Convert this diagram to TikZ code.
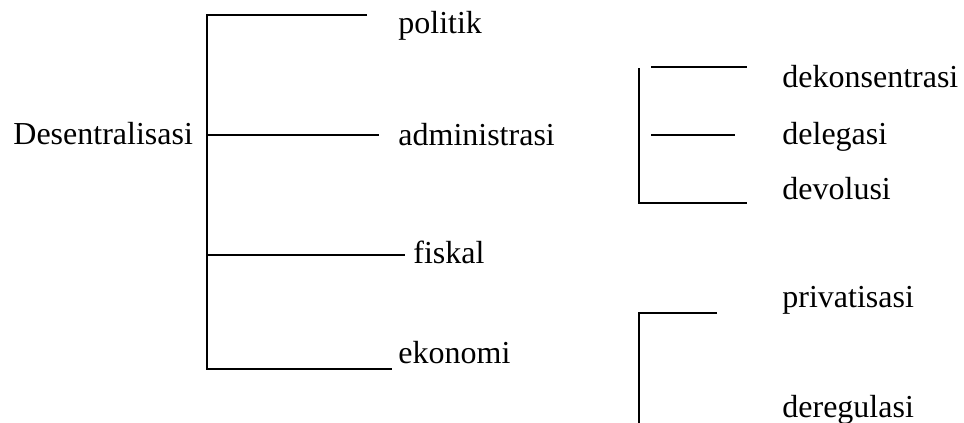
\documentclass[tikz,border=0pt]{standalone}
\usepackage{fontspec}
\setmainfont{Liberation Serif}
\begin{document}
\begin{tikzpicture}[x=0.5pt,y=-0.5pt,
  lbl/.style={anchor=base west,inner sep=0pt,font=\fontsize{16}{19}\selectfont},
  br/.style={line width=1pt}]
\useasboundingbox (0,0) rectangle (964,423);
% labels
\node[lbl] (des) at (13,144) {Desentralisasi};
\node[lbl] (pol) at (398,33) {politik};
\node[lbl] (adm) at (398,145) {administrasi};
\node[lbl] (fis) at (413,263) {fiskal};
\node[lbl] (eko) at (398,363) {ekonomi};
\node[lbl] (dek) at (782,87) {dekonsentrasi};
\node[lbl] (del) at (782,144) {delegasi};
\node[lbl] (dev) at (782,199) {devolusi};
\node[lbl] (pri) at (782,307) {privatisasi};
\node[lbl] (der) at (782,417) {deregulasi};
% main bracket
\coordinate (m1) at (207,15);
\coordinate (m2) at (207,135);
\coordinate (m3) at (207,255);
\coordinate (m4) at (207,369);
\coordinate (e1) at (367,15);
\coordinate (e2) at (379,135);
\coordinate (e3) at (405,255);
\coordinate (e4) at (392,369);
\draw[br] (e1) -- (m1) -- (m4) -- (e4);
\draw[br] (m2) -- (e2);
\draw[br] (m3) -- (e3);
% administrasi sub-bracket
\coordinate (a1) at (639,68);
\coordinate (a2) at (639,203);
\coordinate (a3) at (747,203);
\coordinate (t1) at (651,67);
\coordinate (t2) at (747,67);
\coordinate (d1) at (651,135);
\coordinate (d2) at (735,135);
\draw[br] (a1) -- (a2) -- (a3);
\draw[br] (t1) -- (t2);
\draw[br] (d1) -- (d2);
% ekonomi sub-bracket
\coordinate (b1) at (717,313);
\coordinate (b2) at (639,313);
\coordinate (b3) at (639,423);
\draw[br] (b1) -- (b2) -- (b3);
\end{tikzpicture}
\end{document}
